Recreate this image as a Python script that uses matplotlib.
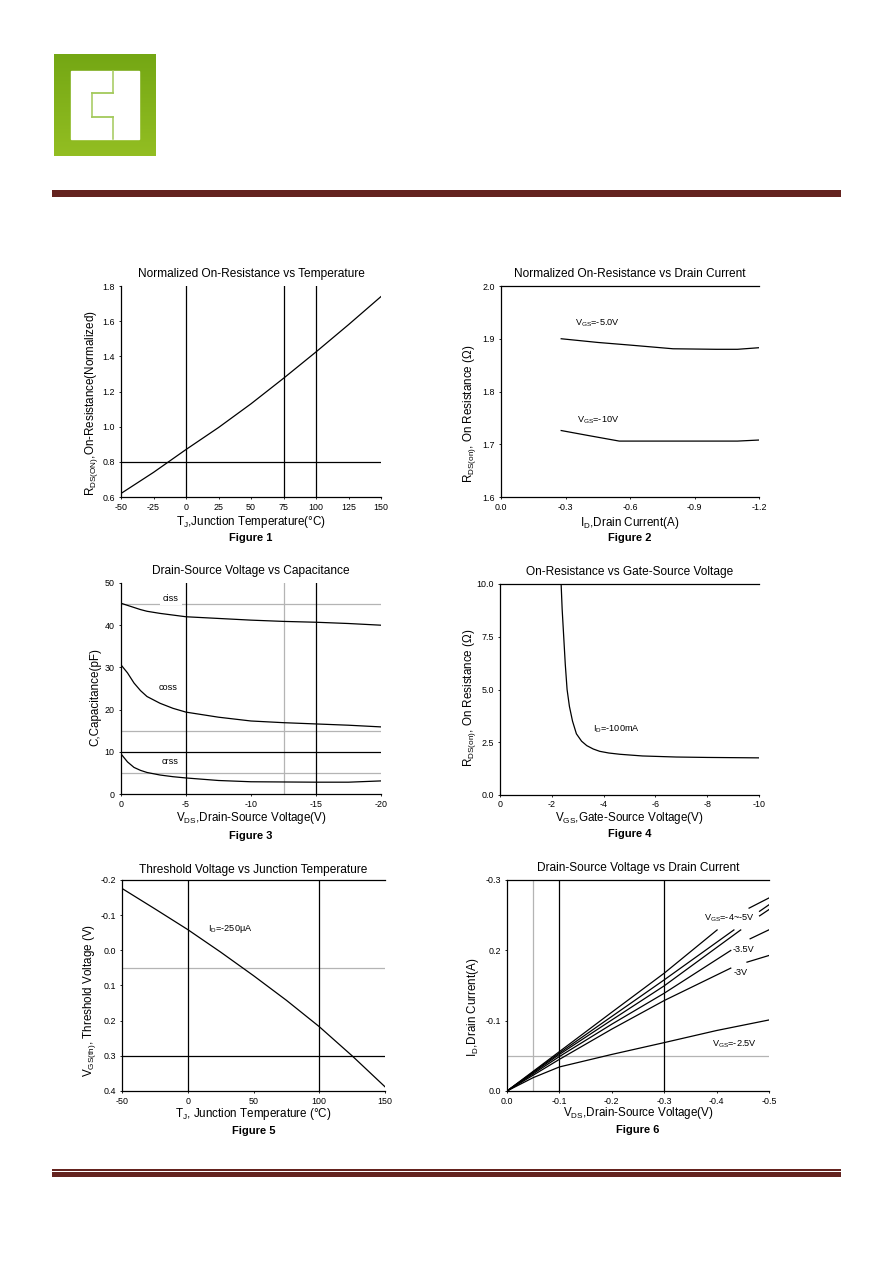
import matplotlib
matplotlib.use("Agg")
import matplotlib.pyplot as plt
import numpy as np
from matplotlib.patches import Rectangle
from matplotlib.colors import LinearSegmentedColormap
from matplotlib.transforms import offset_copy

W, H = 892, 1263

# ---- Figure 1: normalized Rds(on) vs temperature
temp1 = [-50, -25, 0, 25, 50, 75, 100, 125, 150]
rds1 = [0.62, 0.74, 0.87, 0.995, 1.13, 1.275, 1.425, 1.58, 1.74]

# ---- Figure 2: Rds(on) vs drain current
id2_5v = [-0.28, -0.45, -0.6, -0.8, -1.0, -1.1, -1.2]
rds2_5v = [1.900, 1.893, 1.888, 1.881, 1.880, 1.880, 1.883]
id2_10v = [-0.28, -0.4, -0.55, -0.8, -1.1, -1.2]
rds2_10v = [1.726, 1.717, 1.706, 1.706, 1.706, 1.708]

# ---- Figure 3: capacitance vs Vds
vds3 = [0, -0.5, -1, -1.5, -2, -3, -4, -5, -7.5, -10, -12.5, -15, -17.5, -20]
ciss = [45.2, 44.7, 44.2, 43.7, 43.3, 42.8, 42.4, 42.0, 41.6, 41.2, 40.9, 40.7, 40.4, 40.0]
coss = [30.6, 28.7, 26.3, 24.5, 23.1, 21.5, 20.3, 19.4, 18.2, 17.3, 16.9, 16.6, 16.3, 15.9]
crss = [9.5, 7.6, 6.3, 5.6, 5.1, 4.5, 4.1, 3.8, 3.2, 2.9, 2.85, 2.8, 2.8, 3.1]

# ---- Figure 4: Rds(on) vs Vgs
vgs4 = [-2.36, -2.40, -2.46, -2.52, -2.59, -2.68, -2.80, -2.95, -3.15, -3.35,
        -3.6, -3.85, -4.2, -4.63, -5.5, -6.8, -8.0, -10.0]
rds4 = [10.0, 8.8, 7.5, 6.2, 5.0, 4.2, 3.5, 2.9, 2.55, 2.34,
        2.18, 2.07, 1.99, 1.93, 1.85, 1.80, 1.78, 1.76]

# ---- Figure 5: threshold voltage vs temperature
temp5 = [-50, -25, 0, 25, 50, 75, 100, 125, 150]
vth5 = [-0.176, -0.118, -0.059, 0.005, 0.072, 0.142, 0.217, 0.300, 0.388]

# ---- Figure 6: output characteristics (nan = gap behind label)
nan = float("nan")
vds6_a = [0.0, -0.1, -0.2, -0.3, -0.401, nan, -0.462, -0.5]
id6_a = [0.0, -0.056, -0.112, -0.1675, -0.229, nan, -0.260, -0.2745]
vds6_b = [0.0, -0.1, -0.2, -0.3, -0.433, nan, -0.482, -0.5]
id6_b = [0.0, -0.054, -0.106, -0.158, -0.229, nan, -0.2555, -0.2648]
vds6_c = [0.0, -0.1, -0.2, -0.3, -0.446, nan, -0.482, -0.5]
id6_c = [0.0, -0.052, -0.101, -0.1495, -0.229, nan, -0.249, -0.258]
vds6_35 = [0.0, -0.1, -0.2, -0.3, -0.427, nan, -0.464, -0.5]
id6_35 = [0.0, -0.049, -0.095, -0.139, -0.1998, nan, -0.2164, -0.2292]
vds6_30 = [0.0, -0.1, -0.2, -0.3, -0.427, nan, -0.458, -0.5]
id6_30 = [0.0, -0.045, -0.088, -0.1286, -0.1747, nan, -0.1832, -0.1927]
vds6_25 = [0.0, -0.05, -0.1, -0.2, -0.3, -0.4, -0.5]
id6_25 = [0.0, -0.019, -0.0342, -0.052, -0.0688, -0.086, -0.101]

plt.rcParams["font.family"] = ["Liberation Sans", "DejaVu Sans"]
plt.rcParams["mathtext.fontset"] = "custom"
plt.rcParams["mathtext.rm"] = "Liberation Sans"
plt.rcParams["mathtext.it"] = "Liberation Sans"
plt.rcParams["mathtext.default"] = "regular"

fig = plt.figure(figsize=(W / 100, H / 100), dpi=100)

# page decoration: logo + red rules
bg = fig.add_axes([0, 0, 1, 1], zorder=0)
grad = np.linspace(0, 1, 100).reshape(-1, 1)
cmap = LinearSegmentedColormap.from_list("logo", ["#74a714", "#93be22"])
bg.imshow(grad, cmap=cmap, extent=(54, 156, 156, 54), aspect="auto")
bg.add_patch(Rectangle((71, 71), 68, 68, color="white"))
lg = "#a3c95a"
bg.plot([113, 113], [71, 93], color=lg, lw=1.1)
bg.plot([92, 113], [93, 93], color=lg, lw=1.3)
bg.plot([92, 92], [93, 117], color=lg, lw=1.1)
bg.plot([92, 113], [117, 117], color=lg, lw=1.3)
bg.plot([113, 113], [117, 139], color=lg, lw=1.1)
red = "#64231f"
bg.add_patch(Rectangle((52, 190.3), 789, 1.4, color=red, lw=0))
bg.add_patch(Rectangle((52, 192.3), 789, 4.4, color=red, lw=0))
bg.add_patch(Rectangle((52, 1169), 789, 1.7, color=red, lw=0))
bg.add_patch(Rectangle((52, 1172.3), 789, 4.4, color=red, lw=0))
bg.set_xlim(0, W)
bg.set_ylim(H, 0)
bg.axis("off")

GRAY = "#b4b4b4"


def panel(x0, y0, x1, y1, top=True, xpad=3):
    ax = fig.add_axes([x0 / W, 1 - y1 / H, (x1 - x0) / W, (y1 - y0) / H], zorder=1)
    ax.patch.set_alpha(0)
    ax.spines["right"].set_visible(False)
    ax.spines["top"].set_visible(top)
    for s in ax.spines.values():
        s.set_linewidth(0.9)
    ax.tick_params(length=1.5, width=0.6, pad=3, labelsize=6.4)
    ax.tick_params(axis="x", pad=xpad)
    return ax


def texts(ax, title, xlab, ylab, fig_no, t_off, x_off, y_off, c_off, yl_shift):
    ax.text(0.5, 1, title, fontsize=8.6, ha="center", va="center",
            transform=offset_copy(ax.transAxes, fig=fig, y=t_off, units="dots"))
    ax.text(0.5, 0, xlab, fontsize=8.4, ha="center", va="center",
            transform=offset_copy(ax.transAxes, fig=fig, y=-x_off, units="dots"))
    ax.text(0, 0.5, ylab, fontsize=8.4, ha="center", va="center", rotation=90,
            transform=offset_copy(ax.transAxes, fig=fig, x=-y_off, y=-yl_shift,
                                  units="dots"))
    ax.text(0.5, 0, fig_no, fontsize=8, fontweight="bold", ha="center", va="center",
            transform=offset_copy(ax.transAxes, fig=fig, y=-c_off, units="dots"))


kw = dict(color="black", lw=0.9)

# Figure 1
ax1 = panel(121, 286, 381, 497, top=False)
for xv in [0, 75, 100]:
    ax1.axvline(xv, **kw)
ax1.axhline(0.8, **kw)
ax1.plot(temp1, rds1, **kw)
ax1.set_xlim(-50, 150)
ax1.set_ylim(0.6, 1.8)
ax1.set_xticks([-50, -25, 0, 25, 50, 75, 100, 125, 150])
ax1.set_xticklabels(["-50", "-25", "0", "25", "50", "75", "100", "125", "150"])
ax1.set_yticks([0.6, 0.8, 1.0, 1.2, 1.4, 1.6, 1.8])
ax1.set_yticklabels(["0.6", "0.8", "1.0", "1.2", "1.4", "1.6", "1.8"])
texts(ax1, "Normalized On-Resistance vs Temperature",
      "T$_{J}$,Junction Temperature(°C)",
      "R$_{DS(ON)}$,On-Resistance(Normalized)", "Figure 1", 12, 25, 29, 41, 12)

# Figure 2
ax2 = panel(501, 286, 759, 497)
ax2.plot(id2_5v, rds2_5v, **kw)
ax2.plot(id2_10v, rds2_10v, **kw)
ax2.set_xlim(0, -1.2)
ax2.set_ylim(1.6, 2.0)
ax2.set_xticks([0, -0.3, -0.6, -0.9, -1.2])
ax2.set_xticklabels(["0.0", "-0.3", "-0.6", "-0.9", "-1.2"])
ax2.set_yticks([1.6, 1.7, 1.8, 1.9, 2.0])
ax2.set_yticklabels(["1.6", "1.7", "1.8", "1.9", "2.0"])
ax2.text(-0.45, 1.93, "V$_{GS}$=-5.0V", fontsize=6.6, ha="center", va="center")
ax2.text(-0.45, 1.745, "V$_{GS}$=-10V", fontsize=6.6, ha="center", va="center")
texts(ax2, "Normalized On-Resistance vs Drain Current",
      "I$_{D}$,Drain Current(A)",
      "R$_{DS(on)}$, On Resistance (Ω)", "Figure 2", 12, 26, 31, 41, 22)

# Figure 3
ax3 = panel(121, 583, 381, 794, top=False)
for yv in [45, 15, 5]:
    ax3.axhline(yv, color=GRAY, lw=0.9)
ax3.axvline(-12.5, color=GRAY, lw=0.9)
ax3.axvline(-5, **kw)
ax3.axvline(-15, **kw)
ax3.axhline(10, **kw)
ax3.plot(vds3, ciss, **kw)
ax3.plot(vds3, coss, **kw)
ax3.plot(vds3, crss, **kw)
ax3.set_xlim(0, -20)
ax3.set_ylim(0, 50)
ax3.set_xticks([0, -5, -10, -15, -20])
ax3.set_xticklabels(["0", "-5", "-10", "-15", "-20"])
ax3.set_yticks([0, 10, 20, 30, 40, 50])
ax3.set_yticklabels(["0", "10", "20", "30", "40", "50"])
box = dict(facecolor="white", edgecolor="none", pad=2)
ax3.text(-3.85, 46.4, "ciss", fontsize=6.6, ha="center", va="center", bbox=box, zorder=3)
ax3.text(-3.6, 25.3, "coss", fontsize=6.6, ha="center", va="center")
ax3.text(-3.8, 7.6, "crss", fontsize=6.6, ha="center", va="center")
texts(ax3, "Drain-Source Voltage vs Capacitance",
      "V$_{DS}$,Drain-Source Voltage(V)",
      "C,Capacitance(pF)", "Figure 3", 12, 24, 26, 42, 9)

# Figure 4
ax4 = panel(500, 584, 759, 795, xpad=2)
ax4.plot(vgs4, rds4, **kw)
ax4.set_xlim(0, -10)
ax4.set_ylim(0, 10)
ax4.set_xticks([0, -2, -4, -6, -8, -10])
ax4.set_xticklabels(["0", "-2", "-4", "-6", "-8", "-10"])
ax4.set_yticks([0, 2.5, 5, 7.5, 10])
ax4.set_yticklabels(["0.0", "2.5", "5.0", "7.5", "10.0"])
ax4.text(-4.5, 3.15, "I$_{D}$=-100mA", fontsize=6.6, ha="center", va="center")
texts(ax4, "On-Resistance vs Gate-Source Voltage",
      "V$_{GS}$,Gate-Source Voltage(V)",
      "R$_{DS(on)}$, On Resistance (Ω)", "Figure 4", 12, 23, 30, 39, 8)

# Figure 5
ax5 = panel(122, 880, 385, 1091)
ax5.axhline(0.05, color=GRAY, lw=0.9)
ax5.axvline(0, **kw)
ax5.axvline(100, **kw)
ax5.axhline(0.3, **kw)
ax5.plot(temp5, vth5, **kw)
ax5.set_xlim(-50, 150)
ax5.set_ylim(0.4, -0.2)
ax5.set_xticks([-50, 0, 50, 100, 150])
ax5.set_xticklabels(["-50", "0", "50", "100", "150"])
ax5.set_yticks([-0.2, -0.1, 0.0, 0.1, 0.2, 0.3, 0.4])
ax5.set_yticklabels(["-0.2", "-0.1", "0.0", "0.1", "0.2", "0.3", "0.4"])
ax5.text(32, -0.061, "I$_{D}$=-250μA", fontsize=6.6, ha="center", va="center")
texts(ax5, "Threshold Voltage vs Junction Temperature",
      "T$_{J}$, Junction Temperature (°C)",
      "V$_{GS(th)}$, Threshold Voltage (V)", "Figure 5", 10, 23, 32, 40, 15)

# Figure 6
ax6 = panel(507, 880, 769, 1091)
ax6.axvline(-0.05, color=GRAY, lw=0.9)
ax6.axhline(-0.05, color=GRAY, lw=0.9)
ax6.axvline(-0.1, **kw)
ax6.axvline(-0.3, **kw)
ax6.plot(vds6_a, id6_a, **kw)
ax6.plot(vds6_b, id6_b, **kw)
ax6.plot(vds6_c, id6_c, **kw)
ax6.plot(vds6_35, id6_35, **kw)
ax6.plot(vds6_30, id6_30, **kw)
ax6.plot(vds6_25, id6_25, **kw)
ax6.set_xlim(0, -0.5)
ax6.set_ylim(0, -0.3)
ax6.set_xticks([0, -0.1, -0.2, -0.3, -0.4, -0.5])
ax6.set_xticklabels(["0.0", "-0.1", "-0.2", "-0.3", "-0.4", "-0.5"])
ax6.set_yticks([0, -0.1, -0.2, -0.3])
ax6.set_yticklabels(["0.0", "-0.1", "0.2", "-0.3"])
ax6.text(-0.424, -0.246, "V$_{GS}$=-4~-5V", fontsize=6.6, ha="center", va="center")
ax6.text(-0.451, -0.2017, "-3.5V", fontsize=6.6, ha="center", va="center")
ax6.text(-0.446, -0.169, "-3V", fontsize=6.6, ha="center", va="center")
ax6.text(-0.433, -0.0665, "V$_{GS}$=-2.5V", fontsize=6.6, ha="center", va="center")
texts(ax6, "Drain-Source Voltage vs Drain Current",
      "V$_{DS}$,Drain-Source Voltage(V)",
      "I$_{D}$,Drain Current(A)", "Figure 6", 12, 22, 34, 39, 22)

fig.savefig("out.png", dpi=100)
